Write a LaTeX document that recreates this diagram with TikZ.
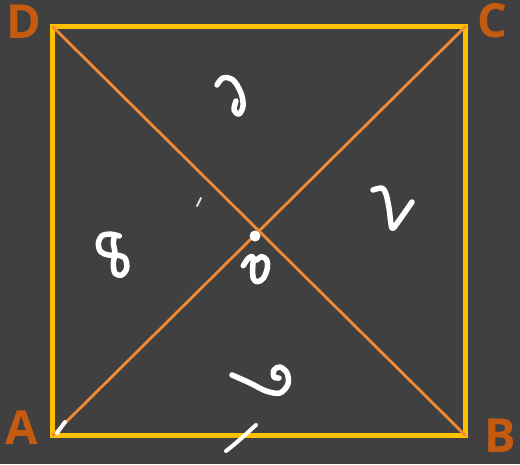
\documentclass[tikz,border=0pt]{standalone}
\usepackage{fontspec}
\setmainfont{Open Sans}
\definecolor{bg}{HTML}{404040}
\definecolor{frame}{HTML}{FFC000}
\definecolor{diag}{HTML}{F08A34}
\definecolor{lab}{HTML}{C55A11}
\tikzset{
  framebox/.style={draw=frame, line width=5pt},
  diagline/.style={draw=diag, line width=2.8pt, line cap=round},
  corner/.style={text=lab, font=\fontsize{47}{47}\selectfont\bfseries, inner sep=0pt},
  ink/.style={draw=white, line width=5.5pt, line cap=round, line join=round},
  thinink/.style={draw=white!85!bg, line width=2pt, line cap=round},
}
\begin{document}
\begin{tikzpicture}[x=1pt,y=-1pt]
\fill[bg] (0,0) rectangle (520,464);
\useasboundingbox (0,0) rectangle (520,464);
\coordinate (A) at (52.5,435.5);
\coordinate (B) at (465.5,435.5);
\coordinate (C) at (465.5,26.5);
\coordinate (D) at (52.5,26.5);
\path[framebox] (A) -- (B) -- (C) -- (D) -- cycle;
\path[diagline] (A) -- (C);
\path[diagline] (D) -- (B);
\node[corner] (lD) at (24,22) {D};
\node[corner] (lC) at (492,21) {C};
\node[corner] (lA) at (22,428) {A};
\node[corner] (lB) at (500,436) {B};
% handwritten marks
\draw[ink] plot[smooth, tension=0.6] coordinates {(217,85) (223,78) (233,80) (241,93) (243,106) (239,114) (234,110) (236,101)};
\draw[ink] plot[smooth, tension=0.5] coordinates {(373,190) (382,188) (386,194) (389,208) (392,228) (398,222) (412,202)};
\draw[ink] plot[smooth, tension=0.55] coordinates {(119.3,236) (110,234) (101.7,236) (98.3,243.3) (100.7,251.7) (108.3,255) (116.7,255) (125,258.3) (126.7,268.3) (121.7,275) (115,273.3) (113.3,263.3) (115,253.3) (113.3,243.3) (114,238)};
\fill[white] (255,236) circle (5.5);
\draw[ink] plot[smooth, tension=0.6] coordinates {(243.3,265.7) (248.3,258.3) (253,257) (252.7,268.3) (253.3,278.3) (257.3,281.7) (263.3,278.3) (267.3,268.3) (266.7,260) (261.7,256.7) (256.7,260)};
\draw[ink] plot[smooth, tension=0.55] coordinates {(232,375) (250,383) (266,391) (280,393) (288,384) (287,373) (280,367) (274,370) (274,377) (279,378)};
\draw[thinink] (197,206) -- (201,198);
\draw[ink, line width=4pt] (57,433) -- (65,422);
\draw[ink, line width=4pt] (226,451) .. controls (238,442) and (248,432) .. (256,425);
\end{tikzpicture}
\end{document}
